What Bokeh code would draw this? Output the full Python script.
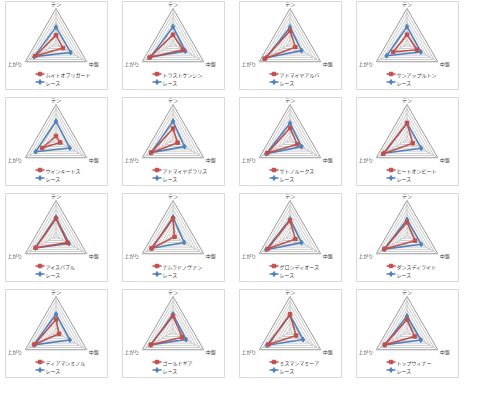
import math
from bokeh.plotting import figure
from bokeh.models import Range1d
from bokeh.core.properties import value
from bokeh.embed import file_html
from bokeh.resources import INLINE

# ---------------- data ----------------
horse_names = ["ムイトオブリガード", "トラストケンシン", "アドマイヤアルバ", "サンアップルトン",
               "ウインキートス", "アドマイヤポラリス", "サトノルークス", "ヒートオンビート",
               "アイスバブル", "ナムラドノヴァン", "グロンディオーズ", "ダンスディライト",
               "ディアマンミノル", "ゴールドギア", "ミスマンマミーア", "トップウィナー"]
race_name = "レース"
axis_labels = ["テン", "中盤", "上がり"]

horse_ten   = [20, 21, 30, 21,  9, 26, 27, 38, 39, 39, 35, 31, 28, 36, 40, 28]
horse_mid   = [18, 26, 14, 26, 11, 12, 19, 15, 30,  4, 14, 21,  8, 24, 16, 20]
horse_agari = [54, 61, 66, 36, 36, 57, 59, 62, 53, 56, 58, 59, 56, 58, 56, 58]

race_ten    = [38, 39, 38, 39, 42, 42, 38, 38, 42, 42, 38, 37, 40, 40, 38, 36]
race_mid    = [38, 32, 30, 36, 36, 30, 30, 37, 34, 29, 30, 37, 36, 34, 34, 36]
race_agari  = [57, 58, 62, 53, 53, 57, 62, 60, 54, 55, 62, 59, 58, 58, 60, 58]

grid_levels = [10, 20, 30, 40, 50, 60, 70, 80]
scale_max = 80

# ---------------- layout ----------------
W, H = 464, 378
p = figure(width=W, height=H, output_backend="svg", toolbar_location=None,
           x_range=Range1d(0, W), y_range=Range1d(H, 0),
           min_border=0, outline_line_color=None)
p.axis.visible = False
p.grid.visible = False
p.background_fill_color = "white"
p.border_fill_color = "white"

RED = "#C0504D"
BLUE = "#4F81BD"
FONT = value("Noto Sans CJK JP")

col_left = [5, 122, 239, 356]
row_top = [1, 97, 193, 289]
PW, PH = 102, 88
R = 35.5
angles = [90, -30, 210]  # テン, 中盤, 上がり


def pt(cx, cy, v, ang):
    r = v / scale_max * R
    a = math.radians(ang)
    return cx + r * math.cos(a), cy - r * math.sin(a)


for i in range(16):
    lx = col_left[i % 4]
    ty = row_top[i // 4]
    cx, cy = lx + 50.5, ty + 42.5

    # panel border
    p.rect(x=[lx + PW / 2], y=[ty + PH / 2], width=PW, height=PH,
           fill_color="white", line_color="#D9D9D9", line_width=1)

    # grid rings
    xs, ys = [], []
    for lv in grid_levels[:-1]:
        pts = [pt(cx, cy, lv, a) for a in angles] + [pt(cx, cy, lv, angles[0])]
        xs.append([q[0] for q in pts]); ys.append([q[1] for q in pts])
    p.multi_line(xs, ys, line_color="#C4C4C4", line_width=0.9)
    pts = [pt(cx, cy, scale_max, a) for a in angles] + [pt(cx, cy, scale_max, angles[0])]
    p.line([q[0] for q in pts], [q[1] for q in pts], line_color="#9A9A9A", line_width=1)
    # spokes
    sx = [[cx, pt(cx, cy, scale_max, a)[0]] for a in angles]
    sy = [[cy, pt(cx, cy, scale_max, a)[1]] for a in angles]
    p.multi_line(sx, sy, line_color="#C4C4C4", line_width=0.9)

    # series
    for vals, col, mk, ms in [((race_ten[i], race_mid[i], race_agari[i]), BLUE, "diamond", 5),
                              ((horse_ten[i], horse_mid[i], horse_agari[i]), RED, "square", 3.5)]:
        pts = [pt(cx, cy, v, a) for v, a in zip(vals, angles)]
        px = [q[0] for q in pts] + [pts[0][0]]
        py = [q[1] for q in pts] + [pts[0][1]]
        p.line(px, py, line_color=col, line_width=1.6)
        p.scatter(px[:3], py[:3], marker=mk, size=ms, fill_color=col, line_color=col)

    # axis labels
    ax, ay = pt(cx, cy, scale_max, 90)
    p.text([ax], [ay - 1.5], text=[axis_labels[0]], text_font=FONT, text_font_size="5px",
           text_align="center", text_baseline="bottom", text_color="#404040")
    bx, by = pt(cx, cy, scale_max, -30)
    p.text([bx + 2], [by + 2], text=[axis_labels[1]], text_font=FONT, text_font_size="5px",
           text_align="left", text_baseline="middle", text_color="#404040")
    gx, gy = pt(cx, cy, scale_max, 210)
    p.text([gx - 3], [gy + 2], text=[axis_labels[2]], text_font=FONT, text_font_size="5px",
           text_align="right", text_baseline="middle", text_color="#404040")

    # legend
    for k, (name, col, mk, ms) in enumerate([(horse_names[i], RED, "square", 3.5),
                                             (race_name, BLUE, "diamond", 5)]):
        yy = ty + 72.5 + 8 * k
        p.line([lx + 30, lx + 39], [yy, yy], line_color=col, line_width=1.6)
        p.scatter([lx + 34.5], [yy], marker=mk, size=ms, fill_color=col, line_color=col)
        p.text([lx + 40], [yy], text=[name], text_font=FONT, text_font_size="5px",
               text_align="left", text_baseline="middle", text_color="#404040")

open("out.html", "w").write(file_html(p, INLINE))
